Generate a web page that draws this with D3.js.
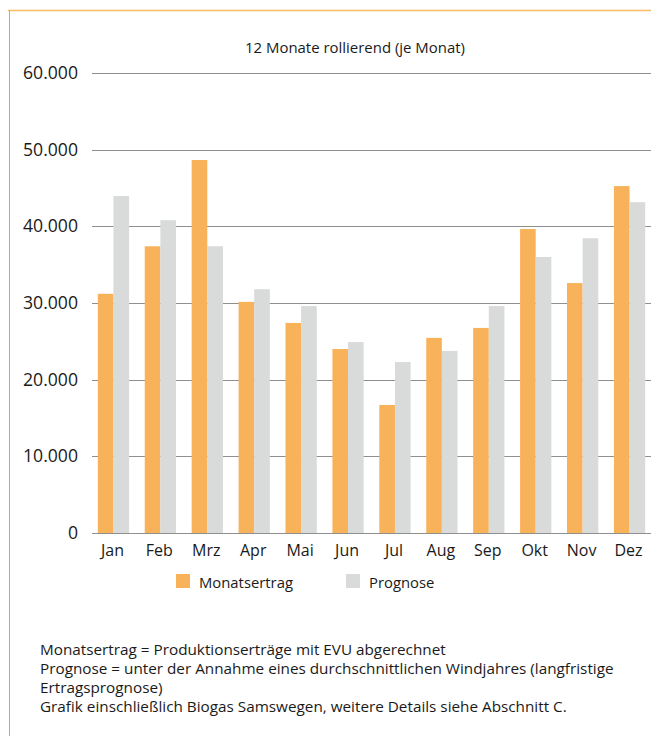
<!DOCTYPE html>
<html>
<head>
<meta charset="utf-8">
<script src="https://cdn.jsdelivr.net/npm/d3@7"></script>
<style>
  body { margin: 0; background: #fff; }
  svg { display: block; font-family: "Open Sans", "Noto Sans", sans-serif; }
</style>
</head>
<body>
<div id="chart"></div>
<script>
// Monatsdaten (kWh)
const months = ["Jan", "Feb", "Mrz", "Apr", "Mai", "Jun", "Jul", "Aug", "Sep", "Okt", "Nov", "Dez"];
const monatsertrag = [31200, 37400, 48650, 30150, 27400, 24000, 16700, 25450, 26750, 39650, 32600, 45250];
const prognose = [43950, 40800, 37400, 31800, 29600, 24900, 22300, 23750, 29600, 36000, 38450, 43150];
const seriesNames = ["Monatsertrag", "Prognose"];
const yTicks = [0, 10000, 20000, 30000, 40000, 50000, 60000];
const titleText = "12 Monate rollierend (je Monat)";
const notes = [
  "Monatsertrag = Produktionserträge mit EVU abgerechnet",
  "Prognose = unter der Annahme eines durchschnittlichen Windjahres (langfristige",
  "Ertragsprognose)",
  "Grafik einschließlich Biogas Samswegen, weitere Details siehe Abschnitt C."
];

const W = 651, H = 736;
const colors = { Monatsertrag: "#f8b35a", Prognose: "#d9dada" };

const svg = d3.select("#chart").append("svg")
  .attr("width", W).attr("height", H);

// Schriftgröße so anpassen, dass ein Beispieltext die Zielbreite hat
function fitSize(sel, sampleIndex, targetWidth) {
  const node = sel.nodes()[sampleIndex];
  const size = parseFloat(node.style.fontSize);
  const w = node.getComputedTextLength();
  sel.style("font-size", (size * targetWidth / w).toFixed(2) + "px");
}

// Rahmen (orange Linie oben und links)
svg.append("line").attr("x1", 8).attr("x2", W).attr("y1", 10.5).attr("y2", 10.5)
  .attr("stroke", "#f9bc62").attr("stroke-width", 1.5);
svg.append("line").attr("x1", 9.5).attr("x2", 9.5).attr("y1", 10).attr("y2", H)
  .attr("stroke", "#eea13a").attr("stroke-width", 1);

// Skalen
const x = d3.scaleBand().domain(months).range([90, 653]).padding(0);
const xs = d3.scaleBand().domain(seriesNames)
  .range([x.bandwidth() / 6, x.bandwidth() * 5 / 6]).padding(0);
const y = d3.scaleLinear().domain([0, 60000]).range([533, 73]);

// Gitterlinien
svg.append("g").selectAll("line").data(yTicks).join("line")
  .attr("x1", 92).attr("x2", W)
  .attr("y1", d => Math.round(y(d)) + 0.5).attr("y2", d => Math.round(y(d)) + 0.5)
  .attr("stroke", "#8f8f8f").attr("stroke-width", 1.2);

// Y-Achse Beschriftung
const fmt = d => d === 0 ? "0" : d3.format(",")(d).replace(/,/g, ".");
const yLabels = svg.append("g").selectAll("text").data(yTicks).join("text")
  .attr("x", 78).attr("y", d => y(d) + 6)
  .attr("text-anchor", "end")
  .style("font-size", "16px").attr("fill", "#1a1a1a")
  .text(fmt);
fitSize(yLabels, 6, 55);

// Balken
const data = months.map((m, i) => ({ month: m, Monatsertrag: monatsertrag[i], Prognose: prognose[i] }));
const groups = svg.append("g").selectAll("g").data(data).join("g")
  .attr("transform", d => `translate(${x(d.month)},0)`);
groups.selectAll("rect")
  .data(d => seriesNames.map(k => ({ key: k, value: d[k] })))
  .join("rect")
  .attr("x", d => xs(d.key))
  .attr("width", xs.bandwidth())
  .attr("y", d => y(d.value))
  .attr("height", d => y(0) - y(d.value))
  .attr("fill", d => colors[d.key]);

// X-Achse Beschriftung
const xLabels = svg.append("g").selectAll("text").data(months).join("text")
  .attr("x", d => x(d) + x.bandwidth() / 2 - 1)
  .attr("y", 556)
  .attr("text-anchor", "middle")
  .style("font-size", "14px").attr("fill", "#1a1a1a")
  .text(d => d);
fitSize(xLabels, 0, 23);

// Titel
const title = svg.append("text").attr("x", 355).attr("y", 53)
  .attr("text-anchor", "middle")
  .style("font-size", "13px").attr("fill", "#1a1a1a")
  .text(titleText);
fitSize(title, 0, 220);

// Legende
const legendX = [176, 346];
const legend = svg.append("g").selectAll("g").data(seriesNames).join("g")
  .attr("transform", (d, i) => `translate(${legendX[i]},574)`);
legend.append("rect").attr("width", 14).attr("height", 14)
  .attr("fill", d => colors[d]);
const legendText = legend.append("text").attr("x", 23).attr("y", 13.5)
  .style("font-size", "15px").attr("fill", "#1a1a1a")
  .text(d => d);
fitSize(legendText, 0, 94);

// Fußnoten
const noteText = svg.append("g").selectAll("text").data(notes).join("text")
  .attr("x", 40).attr("y", (d, i) => 655 + i * 19)
  .style("font-size", "14px").attr("fill", "#1a1a1a")
  .text(d => d);
fitSize(noteText, 1, 574);
</script>
</body>
</html>
